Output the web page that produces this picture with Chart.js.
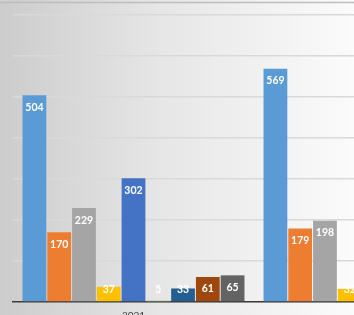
<!DOCTYPE html>
<html><head><meta charset="utf-8">
<script src="https://cdn.jsdelivr.net/npm/chart.js@4/dist/chart.umd.min.js"></script>
<style>
html,body{margin:0;padding:0;overflow:hidden;width:354px;height:315px;background:#f3f3f3}
#wrap{position:absolute;left:0;top:0;width:495px;height:335px}
</style></head>
<body><div id="wrap"><canvas id="c" width="495" height="335"></canvas></div>
<script>
const categories = ['2021', '2022'];
const seriesNames = ['S1','S2','S3','S4','S5','S6','S7','S8','S9'];
const s1 = [504, 569];
const s2 = [170, 179];
const s3 = [229, 198];
const s4 = [37, 32];
const s5 = [302, null];
const s6 = [5, null];
const s7 = [33, null];
const s8 = [61, null];
const s9 = [65, null];
const yMin = 0, yMax = 700, yStep = 100;

const colors = ['#5B9BD5','#ED7D31','#A5A5A5','#FFC000','#4472C4','#C9DDBB','#255E91','#9E480E','#636363'];
const values = [s1,s2,s3,s4,s5,s6,s7,s8,s9];

const bgPlugin = {
  id: 'bg',
  beforeDraw(chart) {
    const ctx = chart.ctx, w = chart.width, h = chart.height;
    const g = ctx.createLinearGradient(0, 0, 354, 0);
    g.addColorStop(0, '#cccccc');
    g.addColorStop(0.45, '#e6e6e6');
    g.addColorStop(1, '#fbfbfb');
    ctx.save();
    ctx.fillStyle = g;
    ctx.fillRect(0, 0, w, h);
    ctx.strokeStyle = '#bdbdbd';
    ctx.lineWidth = 1.5;
    ctx.beginPath(); ctx.moveTo(0, 2.5); ctx.lineTo(w, 2.5); ctx.stroke();
    ctx.restore();
  }
};

const labelPlugin = {
  id: 'vlabels',
  afterDatasetsDraw(chart) {
    const ctx = chart.ctx;
    ctx.save();
    ctx.fillStyle = '#ffffff';
    ctx.font = 'bold 10.5px Lato';
    ctx.textAlign = 'center';
    ctx.textBaseline = 'middle';
    chart.data.datasets.forEach((ds, i) => {
      const meta = chart.getDatasetMeta(i);
      meta.data.forEach((el, j) => {
        const v = ds.data[j];
        if (v === null || v === undefined) return;
        const cy = Math.min(el.y + 12, el.base - 12);
        ctx.fillText(String(v), el.x, cy);
      });
    });
    ctx.restore();
  }
};

new Chart(document.getElementById('c'), {
  type: 'bar',
  data: {
    labels: categories,
    datasets: values.map((d, i) => ({
      label: seriesNames[i],
      data: d,
      backgroundColor: colors[i],
      borderWidth: 0,
      categoryPercentage: 0.925,
      barPercentage: 0.96
    }))
  },
  options: {
    responsive: false,
    devicePixelRatio: 1,
    animation: false,
    layout: { padding: { left: 13, top: 15, right: 0, bottom: 5 } },
    plugins: { legend: { display: false }, tooltip: { enabled: false } },
    scales: {
      x: {
        grid: { display: false, drawTicks: false },
        border: { display: true, color: '#3a3a3a', width: 1.5 },
        ticks: { color: '#404040', font: { family: 'Lato', size: 10 }, padding: 8 }
      },
      y: {
        min: yMin, max: yMax,
        ticks: { display: false, stepSize: yStep },
        grid: { color: '#d9d9d9', lineWidth: 1.5, drawTicks: false },
        border: { display: false }
      }
    }
  },
  plugins: [bgPlugin, labelPlugin]
});
</script>
</body></html>
